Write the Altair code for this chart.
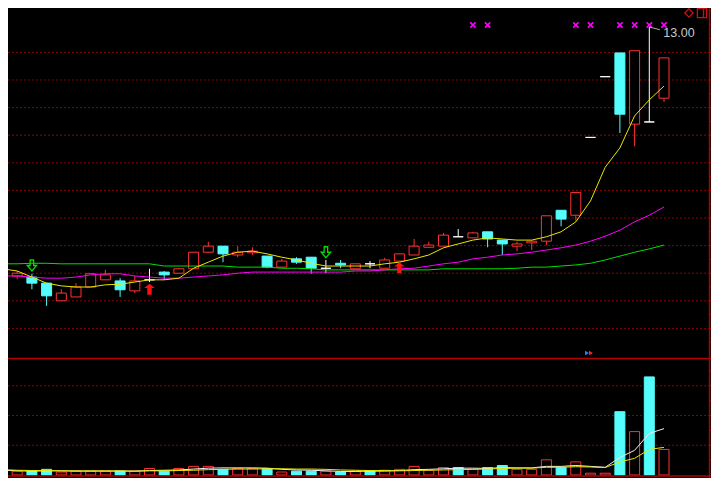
import altair as alt
import pandas as pd

# ---------------- data ----------------
kind = ["up", "up", "down", "down", "up", "up", "up", "up", "down", "up",
        "flat", "down", "up", "up", "up", "down", "up", "up", "down", "up",
        "down", "down", "flat", "down", "up", "flat", "up", "up", "up", "up",
        "up", "flat", "up", "down", "down", "up", "up", "up", "down", "up",
        "flat", "flat", "down", "up", "flat", "up"]

open_p = [8.43, 8.49, 8.47, 8.36, 8.04, 8.11, 8.29, 8.42, 8.40, 8.22,
          8.42, 8.56, 8.54, 8.62, 8.92, 9.03, 8.87, 8.91, 8.85, 8.65,
          8.80, 8.83, 8.63, 8.72, 8.62, 8.71, 8.63, 8.76, 8.87, 9.01,
          9.03, 9.20, 9.18, 9.29, 9.14, 9.03, 9.09, 9.12, 9.68, 9.59,
          11.00, 12.10, 12.53, 11.24, 11.28, 11.71]
close_p = [8.51, 8.54, 8.36, 8.13, 8.18, 8.29, 8.53, 8.51, 8.24, 8.40,
           8.42, 8.51, 8.62, 8.92, 9.03, 8.89, 8.92, 8.94, 8.65, 8.76,
           8.74, 8.63, 8.63, 8.69, 8.71, 8.71, 8.78, 8.89, 9.03, 9.05,
           9.23, 9.20, 9.27, 9.16, 9.07, 9.07, 9.12, 9.58, 9.52, 10.00,
           11.00, 12.10, 11.42, 12.57, 11.28, 12.44]
high_p = [8.60, 8.58, 8.53, 8.36, 8.25, 8.36, 8.53, 8.60, 8.45, 8.49,
          8.62, 8.58, 8.63, 8.92, 9.11, 9.03, 9.03, 9.01, 8.85, 8.80,
          8.83, 8.83, 8.78, 8.78, 8.71, 8.76, 8.82, 8.89, 9.16, 9.11,
          9.27, 9.34, 9.29, 9.29, 9.14, 9.11, 9.14, 9.58, 9.68, 10.00,
          11.00, 12.10, 12.53, 12.57, 13.00, 12.44]
low_p = [8.43, 8.43, 8.25, 7.95, 8.04, 8.11, 8.29, 8.42, 8.11, 8.18,
         8.38, 8.42, 8.54, 8.62, 8.92, 8.74, 8.83, 8.87, 8.63, 8.65,
         8.71, 8.53, 8.54, 8.63, 8.62, 8.63, 8.63, 8.76, 8.87, 9.00,
         9.03, 9.20, 9.18, 9.01, 8.87, 8.94, 8.96, 9.05, 9.39, 9.49,
         11.00, 12.10, 11.08, 10.84, 11.28, 11.64]

ma5 = [8.62, 8.58, 8.47, 8.36, 8.31, 8.29, 8.29, 8.33, 8.34, 8.38,
       8.42, 8.42, 8.45, 8.63, 8.74, 8.85, 8.92, 8.94, 8.89, 8.83,
       8.78, 8.72, 8.67, 8.67, 8.67, 8.67, 8.71, 8.74, 8.80, 8.87,
       9.00, 9.07, 9.14, 9.18, 9.16, 9.14, 9.14, 9.20, 9.29, 9.47,
       9.85, 10.46, 10.81, 11.39, 11.68, 11.93]
ma10 = [8.49, 8.49, 8.47, 8.45, 8.45, 8.47, 8.51, 8.53, 8.53, 8.49,
        8.47, 8.45, 8.45, 8.47, 8.49, 8.51, 8.54, 8.56, 8.56, 8.56,
        8.56, 8.56, 8.56, 8.56, 8.58, 8.58, 8.60, 8.62, 8.63, 8.67,
        8.71, 8.74, 8.80, 8.83, 8.87, 8.89, 8.92, 8.96, 9.00, 9.05,
        9.12, 9.21, 9.32, 9.47, 9.59, 9.74]
ma20 = [8.71, 8.71, 8.72, 8.72, 8.71, 8.71, 8.71, 8.71, 8.71, 8.71,
        8.71, 8.67, 8.67, 8.67, 8.67, 8.67, 8.65, 8.65, 8.65, 8.63,
        8.63, 8.62, 8.60, 8.60, 8.60, 8.60, 8.60, 8.60, 8.60, 8.60,
        8.62, 8.62, 8.62, 8.62, 8.62, 8.63, 8.65, 8.65, 8.67, 8.69,
        8.72, 8.78, 8.85, 8.92, 8.98, 9.05]

vol_kind = ["up", "up", "down", "down", "up", "up", "up", "up", "down", "up",
            "up", "down", "up", "up", "up", "down", "up", "up", "down", "up",
            "down", "down", "up", "down", "up", "down", "up", "up", "up", "up",
            "up", "down", "up", "down", "down", "up", "up", "up", "down", "up",
            "up", "up", "down", "up", "down", "up"]
vol = [1.3, 1.3, 1.3, 1.9, 1.0, 1.3, 1.3, 1.3, 1.3, 1.3,
       2.2, 1.3, 2.2, 2.9, 2.9, 1.9, 2.2, 2.2, 2.2, 1.0,
       1.3, 1.3, 1.3, 1.0, 1.3, 1.3, 1.6, 1.9, 2.9, 1.6,
       2.5, 2.5, 1.9, 2.5, 3.2, 1.9, 1.9, 5.1, 2.5, 4.4,
       0.6, 0.6, 21.3, 14.6, 33.0, 8.6]
vma5 = [1.6, 1.4, 1.3, 1.4, 1.4, 1.3, 1.3, 1.3, 1.3, 1.3,
        1.5, 1.6, 1.7, 2.0, 2.3, 2.4, 2.4, 2.4, 2.3, 1.9,
        1.7, 1.6, 1.4, 1.2, 1.2, 1.3, 1.3, 1.5, 1.8, 1.9,
        2.1, 2.3, 2.3, 2.2, 2.5, 2.4, 2.4, 2.9, 2.9, 3.2,
        2.9, 2.6, 5.9, 8.3, 14.0, 15.6]
vma10 = [1.8, 1.6, 1.5, 1.5, 1.4, 1.4, 1.4, 1.4, 1.4, 1.3,
         1.4, 1.4, 1.5, 1.6, 1.8, 1.9, 2.0, 2.0, 2.1, 2.1,
         2.0, 2.0, 1.9, 1.7, 1.6, 1.5, 1.5, 1.4, 1.5, 1.6,
         1.7, 1.8, 1.9, 2.0, 2.2, 2.3, 2.3, 2.6, 2.6, 2.8,
         2.7, 2.5, 4.4, 5.6, 8.6, 9.3]

price_grid = [12.54, 12.04, 11.54, 11.04, 10.54, 10.04, 9.54, 9.04, 8.54, 8.04, 7.54]
price_ticks = [7.29, 7.54, 7.79, 8.04, 8.29, 8.54, 8.79, 9.04, 9.29, 9.54, 9.79, 10.04,
               10.29, 10.54, 10.79, 11.04, 11.29, 11.54, 11.79, 12.04, 12.29, 12.54,
               12.79, 13.04, 13.29]
vol_grid = [10, 20, 30]
vol_ticks = [5, 10, 15, 20, 25, 30, 35]

signal_days = [32, 33, 39, 40, 42, 43, 44, 45]
sell_days = [2, 22]
sell_level = [8.68, 8.92]
buy_days = [10, 27]
buy_level = [8.25, 8.64]
high_day = [44]
high_value = [13.00]
high_text = ["13.00"]

# ---------------- layout / styling ----------------
W, H = 703, 470          # whole drawing, fits inside the page margins
H_PRICE = 350            # price pane height, volume pane below it
XDOM = [0.374, 48.197]
AXIS_X = 48.10
PDOM = [7.004, 13.344]   # price range of the price pane
VDOM = [-1.01, 39.36]    # volume range of the volume pane (120px)

pp = (PDOM[1] - PDOM[0]) / H_PRICE
vp = (VDOM[1] - VDOM[0]) / (H - H_PRICE)
P_FULL = [PDOM[1] - H * pp, PDOM[1]]
V_FULL = [VDOM[0], VDOM[0] + H * vp]

RED = "#ff3232"
CYAN = "#54fcfc"
WHITE = "#ffffff"
GRID = "#8c0000"
AXRED = "#b40000"

xs = alt.Scale(domain=XDOM, nice=False, zero=False, padding=0)
ps = alt.Scale(domain=P_FULL, nice=False, zero=False, padding=0)
vs = alt.Scale(domain=V_FULL, nice=False, zero=False, padding=0)
fill_s = alt.Scale(domain=["up", "down", "flat"], range=["#000000", CYAN, WHITE])
stroke_s = alt.Scale(domain=["up", "down", "flat"], range=[RED, CYAN, WHITE])

n = len(kind)
cdf = pd.DataFrame({"i": list(range(n)), "kind": kind, "open": open_p, "close": close_p,
                    "high": high_p, "low": low_p, "ma5": ma5, "ma10": ma10, "ma20": ma20,
                    "vk": vol_kind, "vol": vol, "vma5": vma5, "vma10": vma10})
cdf["base"] = 0.0

X = alt.X("i:Q", scale=xs, axis=None)


def hrules(values, yscale, color, dash=None, width=1.0, x0=XDOM[0], x1=AXIS_X):
    df = pd.DataFrame({"v": values})
    df["x0"] = x0
    df["x1"] = x1
    kw = dict(color=color, strokeWidth=width)
    if dash:
        kw["strokeDash"] = dash
    return alt.Chart(df).mark_rule(**kw).encode(
        x=alt.X("x0:Q", scale=xs, axis=None), x2="x1:Q",
        y=alt.Y("v:Q", scale=yscale, axis=None))


# ---------------- price pane ----------------
pgrid = hrules(price_grid, ps, GRID, dash=[2, 2])

wicks = alt.Chart(cdf).mark_rule(strokeWidth=1, clip=True).encode(
    x=X, y=alt.Y("low:Q", scale=ps, axis=None), y2="high:Q",
    color=alt.Color("kind:N", scale=stroke_s, legend=None))

bodies = alt.Chart(cdf).mark_bar(size=10, strokeWidth=1, clip=True).encode(
    x=X, y=alt.Y("open:Q", scale=ps, axis=None), y2="close:Q",
    fill=alt.Fill("kind:N", scale=fill_s, legend=None),
    stroke=alt.Stroke("kind:N", scale=stroke_s, legend=None))


def ma_line(col, color, yscale):
    return alt.Chart(cdf).mark_line(color=color, strokeWidth=1, clip=True).encode(
        x=X, y=alt.Y(f"{col}:Q", scale=yscale, axis=None))


l20 = ma_line("ma20", "#00e000", ps)
l10 = ma_line("ma10", "#ff00ff", ps)
l5 = ma_line("ma5", "#e8e800", ps)

xpath = "M-1,-1L1,1M1,-1L-1,1"
signals = alt.Chart(pd.DataFrame({"i": signal_days})).mark_point(
    shape=xpath, size=28, filled=False, strokeWidth=1.6, color="#ff00ff", opacity=1
).encode(x=X, y=alt.value(17))

down_path = "M-0.32,-1L0.32,-1L0.32,0L0.85,0L0,1L-0.85,0L-0.32,0Z"
up_path = "M-0.4,1L0.4,1L0.4,-0.2L0.95,-0.2L0,-1L-0.95,-0.2L-0.4,-0.2Z"
sells = alt.Chart(pd.DataFrame({"i": sell_days, "p": sell_level})).mark_point(
    shape=down_path, size=121, filled=False, strokeWidth=1.3, color="#00dd00", opacity=1
).encode(x=X, y=alt.Y("p:Q", scale=ps, axis=None))
buys = alt.Chart(pd.DataFrame({"i": buy_days, "p": buy_level})).mark_point(
    shape=up_path, size=121, filled=True, color="#ff1010", opacity=1
).encode(x=X, y=alt.Y("p:Q", scale=ps, axis=None))

hdf = pd.DataFrame({"i": high_day, "p": high_value, "t": high_text})
hdf["i2"] = hdf["i"] + 0.72
hdf["p2"] = hdf["p"] - 0.05
hlabel = alt.Chart(hdf).mark_text(
    align="left", baseline="middle", dx=14, dy=6, fontSize=12.5,
    font="Liberation Sans", color="#c8c8c8"
).encode(x=X, y=alt.Y("p:Q", scale=ps, axis=None), text="t:N")
leader = alt.Chart(hdf).mark_rule(color="#b0b0b0", strokeWidth=1).encode(
    x=X, y=alt.Y("p:Q", scale=ps, axis=None), x2="i2:Q", y2="p2:Q")

p_ticks = hrules(price_ticks, ps, AXRED, x0=AXIS_X, x1=XDOM[1])

# right border of both panes
axdf = pd.DataFrame({"x": [AXIS_X]})
right_axis = alt.Chart(axdf).mark_rule(color=AXRED, strokeWidth=1.5).encode(
    x=alt.X("x:Q", scale=xs, axis=None))

one = pd.DataFrame({"a": [0]})
icon_diamond = alt.Chart(one).mark_point(shape="diamond", size=70, filled=False,
                                         color="#d01010", strokeWidth=1.3, opacity=1).encode(
    x=alt.value(681), y=alt.value(5))
icon_box = alt.Chart(one).mark_point(shape="square", size=85, filled=False,
                                     color="#d01010", strokeWidth=1.3, opacity=1).encode(
    x=alt.value(694), y=alt.value(5))
icon_div = alt.Chart(one).mark_rule(color="#d01010", strokeWidth=1.3).encode(
    x=alt.value(695.5), y=alt.value(0.5), y2=alt.value(9.5))
tri_blue = alt.Chart(one).mark_point(shape="triangle-right", size=22, filled=True,
                                     color="#2a7fff", opacity=1).encode(
    x=alt.value(579), y=alt.value(345))
tri_red = alt.Chart(one).mark_point(shape="triangle-right", size=22, filled=True,
                                    color="#ff2020", opacity=1).encode(
    x=alt.value(583), y=alt.value(345))

# ---------------- volume pane ----------------
vgrid = hrules(vol_grid, vs, GRID, dash=[2, 2])

vbars = alt.Chart(cdf).mark_bar(size=10, strokeWidth=1, clip=True).encode(
    x=X, y=alt.Y("vol:Q", scale=vs, axis=None), y2="base:Q",
    fill=alt.Fill("vk:N", scale=fill_s, legend=None),
    stroke=alt.Stroke("vk:N", scale=stroke_s, legend=None))

v5 = ma_line("vma5", "#f0f0f0", vs)
v10 = ma_line("vma10", "#e8e800", vs)

v_ticks = hrules(vol_ticks, vs, AXRED, x0=AXIS_X, x1=XDOM[1])
v_top = hrules([VDOM[1] - 0.2], vs, AXRED, width=1.5, x1=XDOM[1])
v_bottom = hrules([-0.35], vs, AXRED, width=1.5, x1=XDOM[1])

chart = alt.layer(
    pgrid, vgrid, wicks, bodies, l20, l10, l5, signals, sells, buys, leader, hlabel,
    p_ticks, vbars, v5, v10, v_ticks, v_top, v_bottom, right_axis,
    icon_diamond, icon_box, icon_div, tri_blue, tri_red
).resolve_scale(y="independent").properties(
    width=W, height=H, background="#000000", padding=0,
    autosize=alt.AutoSizeParams(type="none")
).configure_view(stroke=None)

chart.save("out.html", embed_options={"renderer": "svg", "actions": False})
